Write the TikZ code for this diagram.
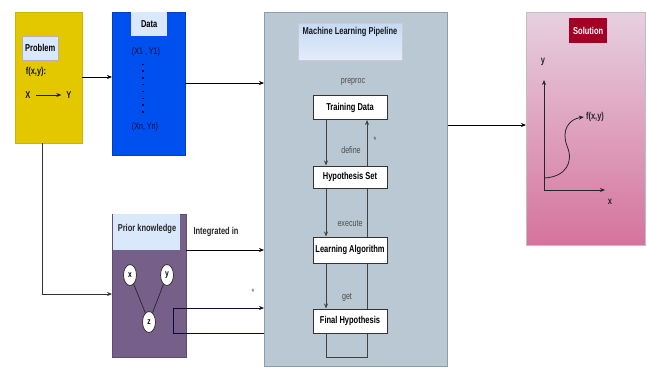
\documentclass[tikz,border=0pt]{standalone}
\usepackage{fontspec}
\setmainfont{Liberation Sans}[FakeStretch=0.75]
\usetikzlibrary{arrows.meta,shapes.geometric}
\definecolor{yel}{HTML}{E3C800}
\definecolor{blu}{HTML}{0050EF}
\definecolor{pur}{HTML}{76608A}
\definecolor{pipe}{HTML}{BAC8D3}
\definecolor{pipeedge}{HTML}{8C9CAA}
\definecolor{lblue}{HTML}{DAE8FC}
\definecolor{ttop}{HTML}{C6DAF5}
\definecolor{tbot}{HTML}{E3EDFB}
\definecolor{pinktop}{HTML}{E7D0DF}
\definecolor{pinkbot}{HTML}{D5739D}
\definecolor{dred}{HTML}{A20025}
\definecolor{navy}{HTML}{0A0A3A}
\begin{document}
\begin{tikzpicture}[x=1pt,y=-1pt,
  blk/.style={draw, inner sep=0pt, anchor=north west},
  lbl/.style={font=\fontsize{10}{11}\selectfont\bfseries, inner sep=0pt},
  stepbox/.style={draw=black!80, line width=1pt, fill=white, minimum width=74pt, minimum height=24pt, inner sep=0pt, font=\fontsize{10}{11}\selectfont\bfseries},
  arr/.style={-{Stealth[length=5pt,width=4pt]}, line width=0.8pt},
  elbl/.style={text=black!70, font=\fontsize{9.5}{10}\selectfont, inner sep=0pt},
  circ/.style={ellipse, draw=black!80, line width=0.8pt, fill=white, minimum width=13pt, minimum height=21pt, inner sep=0pt, font=\fontsize{9}{10}\selectfont\bfseries}
]
\useasboundingbox (0,0) rectangle (647,367);
% boxes
\node[blk, draw=yel!90!black, fill=yel, minimum width=67pt, minimum height=131pt] (prob) at (15,12) {};
\node[blk, draw=black!30, fill=lblue, minimum width=36pt, minimum height=24pt, lbl] (probl) at (22,36) {Problem};
\node[blk, draw=blu!80!black, fill=blu, minimum width=73pt, minimum height=143pt] (data) at (112,12) {};
\node[blk, draw=none, fill=lblue, minimum width=36pt, minimum height=24pt, lbl] (datal) at (131,12) {Data};
\node[blk, draw=pipeedge, line width=0.8pt, fill=pipe, minimum width=183pt, minimum height=354pt] (pipe) at (264,12) {};
\node[blk, draw=black!20, top color=ttop, bottom color=tbot, minimum width=104pt, minimum height=37pt] (title) at (298,23) {};
\node[lbl, text=black!90] (titlet) at (350,32) {Machine Learning Pipeline};
\node[blk, draw=pur!80!black, fill=pur, minimum width=74pt, minimum height=143pt] (prior) at (112,214) {};
\node[blk, draw=none, fill=lblue, minimum width=67pt, minimum height=36pt] (priorl) at (113,214) {};
\node[lbl, text=black!85] (priort) at (147,229) {Prior knowledge};
\node[blk, draw=black!25, top color=pinktop, bottom color=pinkbot, minimum width=119pt, minimum height=233pt] (sol) at (526,12) {};
\node[blk, draw=none, fill=dred, minimum width=38pt, minimum height=25pt, lbl, text=white] (soll) at (569,18) {Solution};
% problem texts
\node[lbl, text=black!90] (fxy1) at (36,72) {f(x,y):};
\node[lbl, text=black!90] (X) at (28,95) {X};
\node[lbl, text=black!90] (Y) at (69,95) {Y};
\draw[arr, black!90] (X.east) ++(5pt,0) coordinate (xa) (xa) -- ([xshift=-5pt]Y.west);
% data texts
\node[font=\fontsize{9.5}{10}\selectfont, text=navy, inner sep=0pt] (x1) at (146,52) {(X1 , Y1)};
\node[font=\fontsize{9.5}{10}\selectfont, text=navy, inner sep=0pt] (xn) at (145,127) {(Xn, Yn)};
\draw[navy, line width=1.3pt, dash pattern=on 1.3pt off 5.5pt, shorten <=7pt, shorten >=6pt] ([xshift=-3pt]x1.south) -- ([xshift=-2pt]xn.north);
% pipeline steps
\node[stepbox] (td) at (350,107.5) {Training Data};
\node[stepbox, minimum height=22pt] (hs) at (350,177) {Hypothesis Set};
\node[stepbox, minimum height=26pt] (la) at (350,250) {Learning Algorithm};
\node[stepbox] (fh) at (350,321) {Final Hypothesis};
\coordinate (L) at (326,0);
\coordinate (R) at (367,0);
\coordinate (loopB) at (0,357);
\draw[arr, black!75] (td.south -| L) -- (hs.north -| L);
\draw[arr, black!75] (hs.south -| L) -- (la.north -| L);
\draw[arr, black!75] (la.south -| L) -- (fh.north -| L);
\draw[line width=0.8pt, black!75] (fh.south -| L) -- (L |- loopB) -- (R |- loopB) -- (fh.south -| R);
\draw[line width=0.8pt, black!75] (fh.north -| R) -- (la.south -| R);
\draw[line width=0.8pt, black!75] (la.north -| R) -- (hs.south -| R);
\draw[arr, black!75] (hs.north -| R) -- (td.south -| R);
\node[elbl] (pre) at (353,82) {preproc};
\node[elbl] (def) at (351,150) {define};
\node[elbl] (exe) at (350,223) {execute};
\node[elbl] (get) at (347,297) {get};
\node[elbl] (st1) at (375,140) {*};
% prior knowledge
\node[circ] (cx) at (130,275) {x};
\node[circ] (cy) at (167,275) {y};
\node[circ] (cz) at (149,322) {z};
\draw[line width=0.7pt, black!85] (cx) -- (cz);
\draw[line width=0.7pt, black!85] (cy) -- (cz);
\node[lbl, text=black!85] (integ) at (216,232) {Integrated in};
\node[elbl] (st2) at (253,292) {*};
% connectors
\coordinate (y77) at (0,77);
\coordinate (y83) at (0,83);
\coordinate (y125) at (0,125);
\coordinate (y250) at (0,250);
\coordinate (y294) at (0,294);
\draw[arr] (prob.east |- y77) -- (data.west |- y77);
\draw[arr] (data.east |- y83) -- (pipe.west |- y83);
\draw[arr] (pipe.east |- y125) -- (sol.west |- y125);
\draw[arr] (prior.east |- y250) -- (pipe.west |- y250);
\draw[arr, black!80] ([xshift=-6.5pt]prob.south) |- (prior.west |- y294);
\coordinate (b1) at (173,308);
\coordinate (b2) at (173,333);
\draw[arr, navy] (b1) -- (b1 -| pipe.west);
\draw[line width=0.8pt, navy] (b1) -- (b2) -- (b2 -| pipe.west);
% solution plot
\coordinate (O) at (544,190);
\coordinate (yend) at (544,80);
\coordinate (xend) at (605,190);
\draw[arr, black!85, line width=1pt] (O) -- (yend);
\draw[arr, black!85, line width=1pt] (O) -- (xend);
\node[lbl, text=black!85] (ylab) at (543,62) {y};
\node[lbl, text=black!85] (xlab) at (610,202) {x};
\node[lbl, text=black!85] (fxy2) at (595,117) {f(x,y)};
\coordinate (cs) at (544,178);
\draw[arr, black!85] (cs) .. controls (566,177) and (574,162) .. (567,146) .. controls (561,130) and (569,119) .. ([xshift=-2pt]fxy2.west);
\end{tikzpicture}
\end{document}
